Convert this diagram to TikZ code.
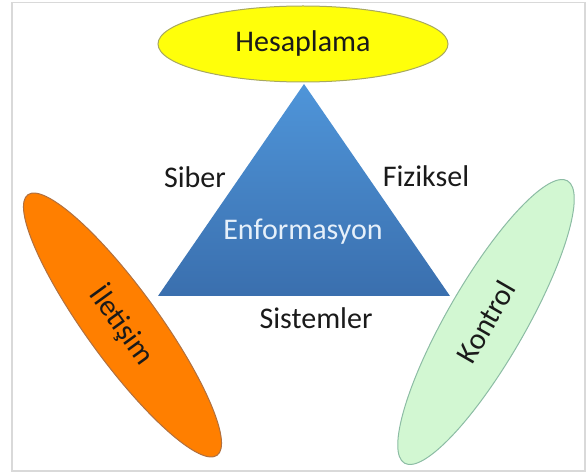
\documentclass[tikz,border=0pt]{standalone}
\usepackage{fontspec}
\setmainfont{Carlito}
\usetikzlibrary{shapes.geometric}
\definecolor{frameline}{HTML}{D9D9D9}
\definecolor{ink}{HTML}{1A1A1A}
\definecolor{hesfill}{HTML}{FFFF0A}
\definecolor{hesline}{HTML}{A8A860}
\definecolor{iletfill}{HTML}{FF7F00}
\definecolor{iletline}{HTML}{B07040}
\definecolor{kontfill}{HTML}{D2F7D2}
\definecolor{kontline}{HTML}{8CBCA4}
\definecolor{tritop}{HTML}{4F95D9}
\definecolor{tribot}{HTML}{3A6FAE}
\definecolor{infotext}{HTML}{E6F0FA}
\tikzset{
  lbl/.style={font=\fontsize{30}{36}\selectfont, text=ink, inner sep=0pt},
  oval/.style={ellipse, inner sep=0pt, line width=1pt, font=\fontsize{30}{36}\selectfont, text=ink},
}
\begin{document}
\begin{tikzpicture}[x=1pt, y=-1pt]
  \useasboundingbox (0,0) rectangle (587,473);
  % outer frame
  \draw[frameline, line width=1.5pt] (12,2.5) rectangle (585,471);

  % central triangle with vertical shading
  \coordinate (apex) at (304,84);
  \coordinate (bl) at (158,296);
  \coordinate (br) at (450,296);
  \shade[top color=tritop, bottom color=tribot] (apex) -- (bl) -- (br) -- cycle;
  \node[lbl, text=infotext] (info) at (303,232) {Enformasyon};

  % side labels
  \node[lbl] (siber) at (195,177) {Siber};
  \node[lbl] (fiz) at (426,176) {Fiziksel};
  \node[lbl] (sis) at (316,318) {Sistemler};

  % three ovals
  \node[oval, draw=hesline, fill=hesfill, minimum width=290pt, minimum height=76pt]
    (hes) at (303,44) {Hesaplama};
  \node[oval, draw=iletline, fill=iletfill, minimum width=322pt, minimum height=72pt, rotate=-54]
    (ilet) at (122.5,325) {İletişim};
  \node[oval, draw=kontline, fill=kontfill, minimum width=326pt, minimum height=78pt, rotate=60]
    (kont) at (486,322) {Kontrol};
\end{tikzpicture}
\end{document}
